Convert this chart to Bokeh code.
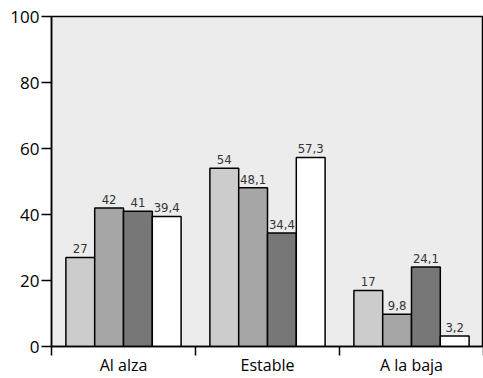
from bokeh.plotting import figure
from bokeh.models import ColumnDataSource, FixedTicker, Range1d
from bokeh.core.properties import value
from bokeh.embed import file_html
from bokeh.resources import INLINE

categories = ["Al alza", "Estable", "A la baja"]
series1 = [27, 54, 17]
series2 = [42, 48.1, 9.8]
series3 = [41, 34.4, 24.1]
series4 = [39.4, 57.3, 3.2]
colors = ["#cccccc", "#a6a6a6", "#777777", "#ffffff"]
y_ticks = [0, 20, 40, 60, 80, 100]

p = figure(width=483, height=378, output_backend="svg", toolbar_location=None,
           x_range=Range1d(0, 3), y_range=Range1d(0, 100),
           min_border_left=51, min_border_right=0, min_border_top=16, min_border_bottom=31)
p.background_fill_color = "#ececec"
p.border_fill_color = "white"
p.outline_line_color = "black"
p.outline_line_width = 1.5
p.xgrid.visible = False
p.ygrid.visible = False

all_series = [series1, series2, series3, series4]
bw = 0.2
for j, (vals, col) in enumerate(zip(all_series, colors)):
    xs = [i + 0.5 + (j - 1.5) * bw for i in range(len(categories))]
    labels = [("%g" % v).replace(".", ",") for v in vals]
    src = ColumnDataSource(dict(x=xs, top=vals, lab=labels))
    p.vbar(x="x", top="top", width=bw, bottom=0, source=src,
           fill_color=col, line_color="black", line_width=1.5)
    p.text(x="x", y="top", text="lab", source=src, text_align="center",
           text_baseline="bottom", y_offset=-4, text_font_size="13px",
           text_font=value("DejaVu Sans Condensed"), text_color="#333333")

xa = p.xaxis[0]
xa.ticker = FixedTicker(ticks=[i + 0.5 for i in range(len(categories))],
                        minor_ticks=list(range(len(categories) + 1)))
xa.major_label_overrides = {i + 0.5: c for i, c in enumerate(categories)}
xa.major_tick_line_color = None
xa.major_tick_in = 0
xa.major_tick_out = 0
xa.minor_tick_in = 0
xa.minor_tick_out = 9
xa.minor_tick_line_color = "black"
xa.minor_tick_line_width = 1.5
xa.axis_line_width = 1.5
xa.major_label_text_font = "Open Sans"
xa.major_label_text_font_size = "16px"
xa.major_label_text_color = "black"
xa.major_label_standoff = -2

ya = p.yaxis[0]
ya.ticker = FixedTicker(ticks=y_ticks, minor_ticks=[])
ya.major_tick_in = 0
ya.major_tick_out = 10
ya.major_tick_line_width = 1.5
ya.axis_line_width = 1.5
ya.major_label_text_font = "Open Sans"
ya.major_label_text_font_size = "17px"
ya.major_label_text_color = "black"
ya.major_label_standoff = 2

open("out.html", "w").write(file_html(p, INLINE))
